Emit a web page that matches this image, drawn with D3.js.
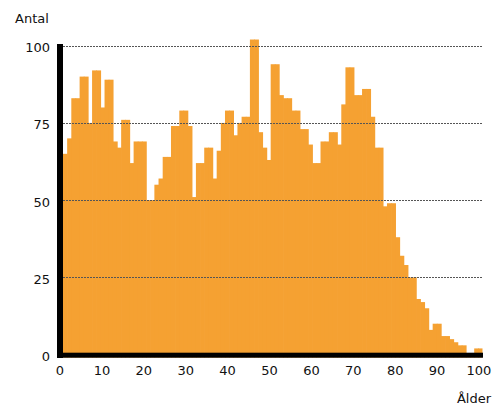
<!DOCTYPE html>
<html>
<head>
<meta charset="utf-8">
<script src="https://cdn.jsdelivr.net/npm/d3@7"></script>
<style>
  html, body { margin: 0; padding: 0; background: #fff; }
  svg { display: block; font-family: "DejaVu Sans", Verdana, sans-serif; }
</style>
</head>
<body>
<svg id="chart" width="494" height="405"></svg>
<script>
// Ages 0..100
const ages = d3.range(0, 101);
const counts = [
  65, 70, 83, 83, 90, 90, 75, 92, 92, 80,
  89, 89, 69, 67, 76, 76, 62, 69, 69, 69,
  50, 50, 55, 57, 64, 64, 74, 74, 79, 79,
  74, 51, 62, 62, 67, 67, 57, 66, 75, 79,
  79, 71, 75, 77, 77, 102, 102, 72, 67, 63,
  94, 94, 84, 83, 83, 79, 79, 73, 73, 68,
  62, 62, 69, 69, 72, 72, 68, 81, 93, 93,
  84, 84, 86, 86, 77, 67, 67, 48, 49, 49,
  38, 32, 29, 25, 25, 18, 17, 15, 8, 10,
  10, 6, 6, 5, 4, 3, 3, 0, 0, 2,
  2
];
const yTicks = [0, 25, 50, 75, 100];
const xTicks = [0, 10, 20, 30, 40, 50, 60, 70, 80, 90, 100];
const yTitle = "Antal";
const xTitle = "Ålder";

const svg = d3.select("#chart");
const plotLeft = 63, plotRight = 482.5, y0px = 354.6, y100px = 45.7;

const xBar = d3.scaleLinear().domain([0, ages.length]).range([plotLeft, plotRight]);
const xAxisScale = d3.scaleLinear().domain([0, 100]).range([60, 479]);
const y = d3.scaleLinear().domain([0, 100]).range([y0px, y100px]);

// bars (slight overlap to avoid seams between adjacent bars)
svg.append("g").selectAll("rect")
  .data(ages)
  .join("rect")
  .attr("x", d => xBar(d))
  .attr("width", d => xBar(d + 1) - xBar(d) + (d < ages.length - 1 ? 0.7 : 0))
  .attr("y", d => y(counts[d]))
  .attr("height", d => 357.5 - y(counts[d]))
  .attr("fill", "#f5a132");

// gridlines (drawn over bars)
svg.append("g").selectAll("line")
  .data(yTicks.filter(t => t > 0))
  .join("line")
  .attr("x1", plotLeft).attr("x2", 483)
  .attr("y1", d => Math.round(y(d)) + 0.5)
  .attr("y2", d => Math.round(y(d)) + 0.5)
  .attr("stroke", "#555")
  .attr("stroke-width", 1)
  .attr("stroke-dasharray", "2,1");

// axes lines (thick black)
svg.append("rect").attr("x", 57).attr("y", 44).attr("width", 6).attr("height", 314).attr("fill", "#000");
svg.append("rect").attr("x", 57).attr("y", 352.7).attr("width", 426).attr("height", 5).attr("fill", "#000");

// y tick labels
svg.append("g").selectAll("text")
  .data(yTicks)
  .join("text")
  .attr("x", 50)
  .attr("y", d => y(d) + 2)
  .attr("dy", "0.35em")
  .attr("text-anchor", "end")
  .attr("font-size", 13)
  .attr("fill", "#111")
  .text(d => d);

// x tick labels
svg.append("g").selectAll("text")
  .data(xTicks)
  .join("text")
  .attr("x", d => xAxisScale(d))
  .attr("y", 375)
  .attr("text-anchor", "middle")
  .attr("font-size", 13)
  .attr("fill", "#111")
  .text(d => d);

// titles
svg.append("text").attr("x", 15).attr("y", 23).attr("font-size", 13).attr("fill", "#111").text(yTitle);
svg.append("text").attr("x", 491).attr("y", 403).attr("text-anchor", "end").attr("font-size", 13).attr("fill", "#111").text(xTitle);
</script>
</body>
</html>
